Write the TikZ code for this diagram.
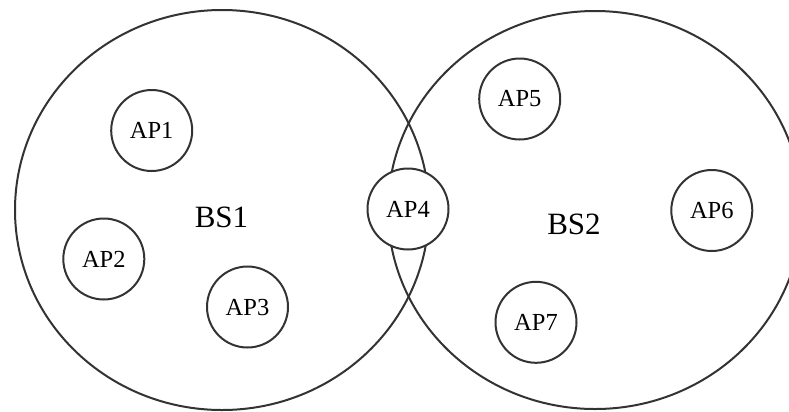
\documentclass[tikz,border=0pt]{standalone}
\usepackage{fontspec}
\setmainfont{Liberation Serif}
\usepackage{tikz}
\usetikzlibrary{shapes.geometric}
\colorlet{edge}{black!80}
\tikzstyle{bs} = [ellipse, 
minimum width=414bp, 
minimum height=400bp, 
inner sep=0pt, 
draw=edge, 
line width=2bp]
\tikzstyle{ap} = [circle, 
minimum size=81bp, 
inner sep=0pt, 
text centered, 
font=\fontsize{24.5bp}{28bp}\selectfont, 
draw=edge, 
line width=2bp]
\tikzstyle{bslabel} = [font=\fontsize{31bp}{35bp}\selectfont]

\begin{document}
\begin{tikzpicture}[x=1bp, y=-1bp]
			\useasboundingbox (0,0) rectangle (789,411);
			\node (bs1)[bs] at (222,210) {};
			\node (bs2)[bs, minimum height=398bp] at (595,210) {};
			\node (bs1label)[bslabel] at (221.5,217) {BS1};
			\node (bs2label)[bslabel] at (574,224) {BS2};
			
			\node (ap1)[ap, fill=white] at (151.7,130.5) {AP1};
			\node (ap2)[ap, fill=white] at (103.8,259) {AP2};
			\node (ap3)[ap, fill=white] at (247.5,307) {AP3};
			\node (ap4)[ap, fill=white] at (408,209) {AP4};
			\node (ap5)[ap, fill=white] at (519.7,99) {AP5};
			\node (ap6)[ap, fill=white] at (711.8,210.5) {AP6};
			\node (ap7)[ap, fill=white] at (536,322.3) {AP7};
		\end{tikzpicture}
\end{document}
